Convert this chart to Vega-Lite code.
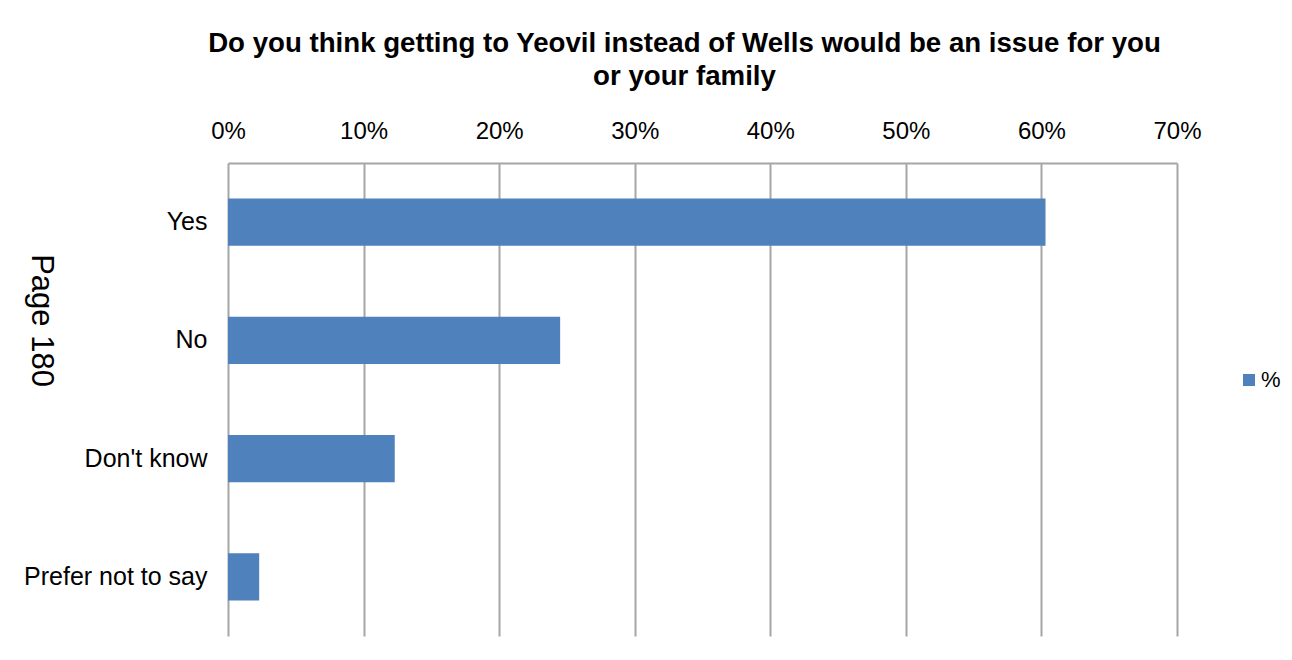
{
  "$schema": "https://vega.github.io/schema/vega-lite/v6.json",
  "autosize": {"type": "none"},
  "width": 949,
  "height": 473,
  "padding": {"left": 228, "top": 163, "right": 115, "bottom": 24},
  "background": "white",
  "config": {
    "font": "Liberation Sans",
    "view": {"stroke": null}
  },
  "title": {
    "text": ["Do you think getting to Yeovil instead of Wells would be an issue for you", "or your family"],
    "fontSize": 27.65,
    "fontWeight": "bold",
    "font": "Liberation Sans",
    "color": "#000000",
    "anchor": "middle",
    "dx": -18,
    "lineHeight": 33,
    "offset": 28
  },
  "data": {
    "values": [
      {"answer": "Yes", "share": 0.603, "series": "%"},
      {"answer": "No", "share": 0.245, "series": "%"},
      {"answer": "Don't know", "share": 0.123, "series": "%"},
      {"answer": "Prefer not to say", "share": 0.023, "series": "%"}
    ]
  },
  "mark": {"type": "bar", "color": "#4F81BD"},
  "encoding": {
    "y": {
      "field": "answer",
      "type": "nominal",
      "sort": ["Yes", "No", "Don't know", "Prefer not to say"],
      "scale": {"paddingInner": 0.6, "paddingOuter": 0.3},
      "axis": {
        "title": "Page 180",
        "titleAngle": 90,
        "titleFontSize": 31,
        "titleFontWeight": "normal",
        "titleColor": "#000000",
        "titleFont": "Liberation Sans",
        "titleAlign": "center",
        "titleBaseline": "middle",
        "titleX": -188,
        "titleY": 157,
        "labelFontSize": 25,
        "labelColor": "#000000",
        "labelPadding": 21,
        "labelLimit": 400,
        "ticks": false,
        "domain": false,
        "grid": false
      }
    },
    "x": {
      "field": "share",
      "type": "quantitative",
      "scale": {"domain": [0, 0.7], "nice": false},
      "axis": {
        "orient": "top",
        "title": null,
        "format": ".0%",
        "values": [0, 0.1, 0.2, 0.3, 0.4, 0.5, 0.6, 0.7],
        "labelFontSize": 24,
        "labelColor": "#000000",
        "labelBaseline": "alphabetic",
        "labelPadding": 25,
        "labelFlush": false,
        "labelOverlap": false,
        "ticks": false,
        "domain": true,
        "domainColor": "#a6a6a6",
        "domainWidth": 2,
        "grid": true,
        "gridColor": "#a6a6a6",
        "gridWidth": 2,
        "gridOpacity": 1
      }
    },
    "color": {
      "field": "series",
      "type": "nominal",
      "scale": {"range": ["#4F81BD"]},
      "legend": {
        "title": null,
        "orient": "none",
        "legendX": 1010,
        "legendY": 206,
        "symbolType": "square",
        "symbolSize": 144,
        "symbolStrokeWidth": 0,
        "labelFontSize": 22,
        "labelColor": "#000000",
        "labelOffset": 1,
        "padding": 0
      }
    }
  }
}
